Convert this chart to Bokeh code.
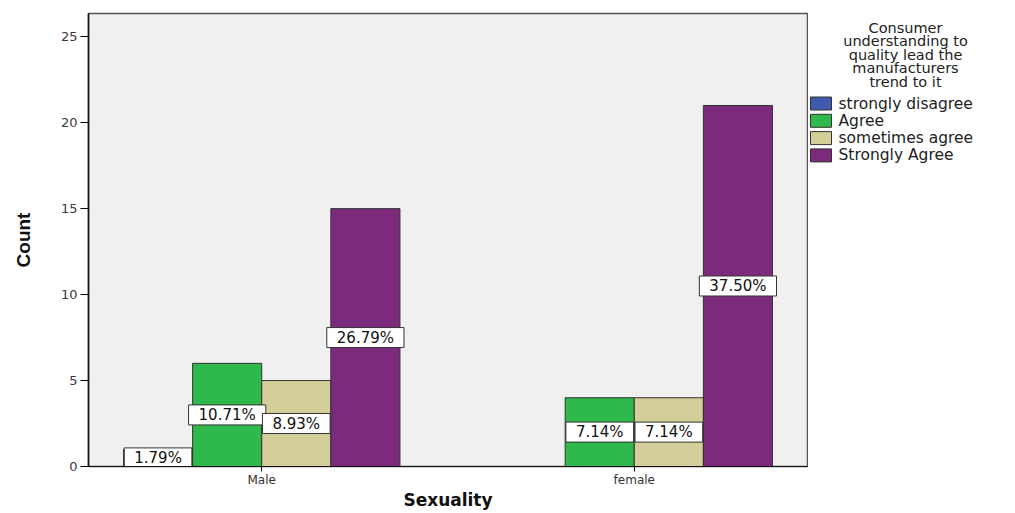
from bokeh.plotting import figure
from bokeh.models import ColumnDataSource, Range1d, FixedTicker
from bokeh.layouts import row
from bokeh.core.properties import value
from bokeh.embed import file_html
from bokeh.resources import INLINE

# Survey responses by sex
groups = ["Male", "female"]
responses = ["strongly disagree", "Agree", "sometimes agree", "Strongly Agree"]
male_counts = [1, 6, 5, 15]
female_counts = [0, 4, 4, 21]
colors = ["#3F5AAE", "#2FB84B", "#D4CE98", "#7B2A7C"]
legend_title = ["Consumer", "understanding to", "quality lead the",
                "manufacturers", "trend to it"]
y_ticks = [0, 5, 10, 15, 20, 25]

FONT = "DejaVu Sans"
W, H = 808, 513
TOP, BOTTOM = 13, 47
total = sum(male_counts) + sum(female_counts)
bar_w = 0.1855
offsets = [-1.5 * bar_w, -0.5 * bar_w, 0.5 * bar_w, 1.5 * bar_w]

xs, tops, fills, pct, mids = [], [], [], [], []
for gi, counts in enumerate([male_counts, female_counts]):
    for ri, c in enumerate(counts):
        if c == 0:
            continue
        xs.append(gi + 1 + offsets[ri])
        tops.append(c)
        fills.append(colors[ri])
        pct.append(f"{100 * c / total:.2f}%")
        mids.append(c / 2)

src = ColumnDataSource(dict(x=xs, top=tops, fill=fills, pct=pct, mid=mids))

p = figure(width=W, height=H, output_backend="svg", toolbar_location=None,
           x_range=Range1d(0.535, 2.465), y_range=Range1d(0, 26.35),
           min_border_left=88, min_border_right=1, min_border_top=TOP,
           min_border_bottom=BOTTOM)
p.background_fill_color = "#F0F0F0"
p.border_fill_color = "white"
p.outline_line_color = "#555555"
p.outline_line_width = 1.5
p.xgrid.visible = False
p.ygrid.visible = False

p.vbar(x="x", top="top", width=bar_w, bottom=0, source=src,
       fill_color="fill", line_color="#333333", line_width=1)

# percentage boxes centred in each bar
p.text(x="x", y="mid", text="pct", source=src,
       text_align="center", text_baseline="middle",
       text_font=value(FONT), text_font_size="15px", text_color="#111111",
       text_line_height=1.15,
       background_fill_color="white", background_fill_alpha=1.0,
       border_line_color="#333333", border_line_width=1,
       padding=(10, 1))

p.yaxis.ticker = FixedTicker(ticks=y_ticks)
p.yaxis.minor_tick_line_color = None
p.yaxis.major_tick_out = 8
p.yaxis.major_tick_in = 0
p.yaxis.major_label_standoff = 3
p.yaxis.major_label_text_font = FONT
p.yaxis.major_label_text_font_size = "13px"
p.yaxis.major_label_text_color = "#3a3a3a"
p.yaxis.axis_line_color = "#111111"
p.yaxis.axis_line_width = 1.5
p.yaxis.axis_label = "Count"
p.yaxis.axis_label_text_font = "Liberation Sans"
p.yaxis.axis_label_text_font_style = "bold"
p.yaxis.axis_label_text_font_size = "19px"
p.yaxis.axis_label_text_color = "#111111"
p.yaxis.axis_label_standoff = 24

p.xaxis.ticker = FixedTicker(ticks=[1, 2])
p.xaxis.major_label_overrides = {1: groups[0], 2: groups[1]}
p.xaxis.minor_tick_line_color = None
p.xaxis.major_tick_out = 5
p.xaxis.major_tick_in = 0
p.xaxis.major_label_standoff = 1
p.xaxis.major_label_text_font = FONT
p.xaxis.major_label_text_font_size = "12px"
p.xaxis.major_label_text_color = "#333333"
p.xaxis.axis_line_color = "#111111"
p.xaxis.axis_line_width = 1.2
p.xaxis.axis_label = "Sexuality"
p.xaxis.axis_label_text_font = FONT
p.xaxis.axis_label_text_font_style = "bold"
p.xaxis.axis_label_text_font_size = "17px"
p.xaxis.axis_label_text_color = "#111111"
p.xaxis.axis_label_standoff = 0

# Legend panel on the right; its frame shares the chart's vertical extent,
# so its y range is given in page pixels.
lg = figure(width=1015 - W, height=H, output_backend="svg",
            toolbar_location=None,
            x_range=Range1d(0, 1015 - W), y_range=Range1d(H - BOTTOM, TOP),
            min_border_left=0, min_border_right=0, min_border_top=TOP,
            min_border_bottom=BOTTOM, outline_line_color=None)
lg.axis.visible = False
lg.grid.visible = False

title_y = [27 + 13.5 * i for i in range(len(legend_title))]
lg.text(x=[97] * len(legend_title), y=title_y, text=legend_title,
        text_align="center", text_baseline="middle",
        text_font=value(FONT), text_font_size="14.5px", text_color="#222222")

item_y = [103 + 17.3 * i for i in range(len(responses))]
lg.rect(x=[12.5] * len(responses), y=item_y, width=21, height=13,
        fill_color=colors, line_color="#333333", line_width=1)
lg.text(x=[30] * len(responses), y=item_y, text=responses,
        text_align="left", text_baseline="middle",
        text_font=value(FONT), text_font_size="15.5px", text_color="#222222")

layout = row(p, lg)
open("out.html", "w").write(file_html(layout, INLINE))
